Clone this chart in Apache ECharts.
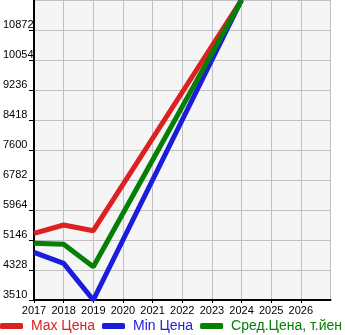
<!DOCTYPE html>
<html><head><meta charset="utf-8">
<script src="https://cdn.jsdelivr.net/npm/echarts@6/dist/echarts.min.js"></script>
<style>html,body{margin:0;padding:0;background:#fff}#c{width:345px;height:335px}</style>
</head><body><div id="c"></div>
<script>
const years = [2017, 2018, 2019, 2024];
const maxPrice = [5328, 5555, 5400, 11690];
const minPrice = [4810, 4510, 3510, 11690];
const avgPrice = [5055, 5028, 4419, 11690];
const seriesNames = ['Max Цена', 'Min Цена', 'Сред.Цена, т.йен'];
const colors = ['#dd2020', '#1c1cdd', '#058005'];
const yMin = 3510, yMax = 11690, yStep = 818;
const xMin = 2017, xMax = 2027;

const pairs = a => years.map((y, i) => [y, a[i]]);
const chart = echarts.init(document.getElementById('c'), null, {renderer: 'canvas'});
chart.setOption({
  animation: false,
  grid: {left: 30.5, top: 0, right: 14.5, bottom: 35, show: true, backgroundColor: '#f5f5f5', borderWidth: 0},
  xAxis: {
    type: 'value', min: xMin, max: xMax, interval: 1,
    axisLine: {show: true, onZero: false, lineStyle: {color: '#000', width: 2}},
    axisTick: {show: true, length: 3, lineStyle: {color: '#000'}},
    splitLine: {show: true, lineStyle: {color: '#c0c0c0', width: 1}},
    axisLabel: {color: '#000', fontSize: 11, margin: 5, showMaxLabel: false,
      formatter: v => v >= xMax ? '' : String(v)}
  },
  yAxis: {
    type: 'value', min: yMin, max: yMax, interval: yStep,
    axisLine: {show: true, lineStyle: {color: '#000', width: 2}},
    axisTick: {show: true, length: 5, lineStyle: {color: '#000'}},
    splitLine: {show: true, lineStyle: {color: '#c0c0c0', width: 1}},
    axisLabel: {color: '#000', fontSize: 11, align: 'left', verticalAlign: 'bottom', margin: 31, lineHeight: 11, showMaxLabel: false,
      formatter: v => v >= yMax ? '' : String(v)}
  },
  legend: {
    left: 0, top: 319, padding: 0, itemWidth: 23, itemHeight: 6, itemGap: 7,
    icon: 'roundRect',
    textStyle: {fontSize: 14, padding: [0, 0, 0, 3]},
    data: seriesNames.map((n, i) => ({name: n, textStyle: {color: colors[i]}}))
  },
  series: [maxPrice, minPrice, avgPrice].map((d, i) => ({
    name: seriesNames[i], type: 'line', data: pairs(d), showSymbol: false, symbol: 'none',
    color: colors[i], lineStyle: {width: 5, color: colors[i]}, clip: true
  }))
});
</script></body></html>
